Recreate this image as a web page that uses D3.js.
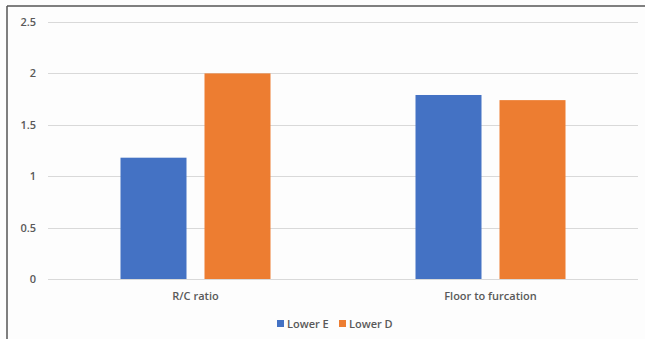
<!DOCTYPE html>
<html>
<head>
<meta charset="utf-8">
<script src="https://cdn.jsdelivr.net/npm/d3@7"></script>
<style>
  html, body { margin: 0; padding: 0; background: #fff; }
  svg { display: block; }
  text { font-family: "Open Sans", "Liberation Sans", sans-serif; }
</style>
</head>
<body>
<div id="chart"></div>
<script>
// Categories, series and values
const categories = ["R/C ratio", "Floor to furcation"];
const seriesNames = ["Lower E", "Lower D"];
const lowerE = [1.18, 1.79];
const lowerD = [2.0, 1.74];
const yTicks = [0, 0.5, 1, 1.5, 2, 2.5];
const colors = ["#4472C4", "#ED7D31"];

const W = 645, H = 339;
const svg = d3.select("#chart").append("svg")
  .attr("width", W).attr("height", H);

svg.append("rect").attr("width", W).attr("height", H).attr("fill", "#fdfdfd");

// frame lines (left and top)
svg.append("line").attr("x1", 7).attr("x2", 7).attr("y1", 6).attr("y2", H)
  .attr("stroke", "#555").attr("stroke-width", 1.5);
svg.append("line").attr("x1", 7).attr("x2", W).attr("y1", 6).attr("y2", 6)
  .attr("stroke", "#555").attr("stroke-width", 1.5);

const plot = { left: 48, right: 638, top: 22, bottom: 279 };

const y = d3.scaleLinear().domain([0, 2.5]).range([plot.bottom, plot.top]);
const x0 = d3.scaleBand().domain(categories).range([plot.left, plot.right]).padding(0);
const groupW = 150;
const x1 = d3.scaleBand().domain(seriesNames).range([0, groupW])
  .paddingInner(18 / 84).paddingOuter(0);

// gridlines
svg.append("g").selectAll("line").data(yTicks).join("line")
  .attr("x1", plot.left).attr("x2", plot.right)
  .attr("y1", d => Math.round(y(d)) + 0.5).attr("y2", d => Math.round(y(d)) + 0.5)
  .attr("stroke", "#d9d9d9").attr("stroke-width", 1);

// y axis labels
const yAxis = d3.axisLeft(y).tickValues(yTicks).tickSize(0).tickPadding(0)
  .tickFormat(d => String(d));
const yg = svg.append("g").attr("transform", `translate(${36},0)`).call(yAxis);
yg.select(".domain").remove();
yg.selectAll("text").attr("font-size", 11).attr("fill", "#595959").attr("font-weight", 600);

// bars
const rows = categories.map((c, i) => ({ cat: c, vals: [lowerE[i], lowerD[i]] }));
const groups = svg.append("g").selectAll("g").data(rows).join("g")
  .attr("transform", d => `translate(${x0(d.cat) + (x0.bandwidth() - groupW) / 2},0)`);
groups.selectAll("rect").data(d => d.vals.map((v, j) => ({ s: seriesNames[j], v, j })))
  .join("rect")
  .attr("x", d => x1(d.s))
  .attr("width", x1.bandwidth())
  .attr("y", d => y(d.v))
  .attr("height", d => y(0) - y(d.v))
  .attr("fill", d => colors[d.j]);

// x axis labels
const xAxis = d3.axisBottom(x0).tickSize(0).tickPadding(0);
const xg = svg.append("g").attr("transform", `translate(0,${plot.bottom + 13})`).call(xAxis);
xg.select(".domain").remove();
xg.selectAll("text").attr("font-size", 11).attr("fill", "#595959").attr("font-weight", 600);

// legend
const legend = svg.append("g").attr("transform", "translate(277,324)");
const legendX = [0, 62];
seriesNames.forEach((s, i) => {
  const g = legend.append("g").attr("transform", `translate(${legendX[i]},0)`);
  g.append("rect").attr("x", 0).attr("y", -4).attr("width", 7).attr("height", 7).attr("fill", colors[i]);
  g.append("text").attr("x", 10).attr("y", 0).attr("dy", "0.35em")
    .attr("font-size", 11).attr("fill", "#595959").attr("font-weight", 600).text(s);
});
</script>
</body>
</html>
